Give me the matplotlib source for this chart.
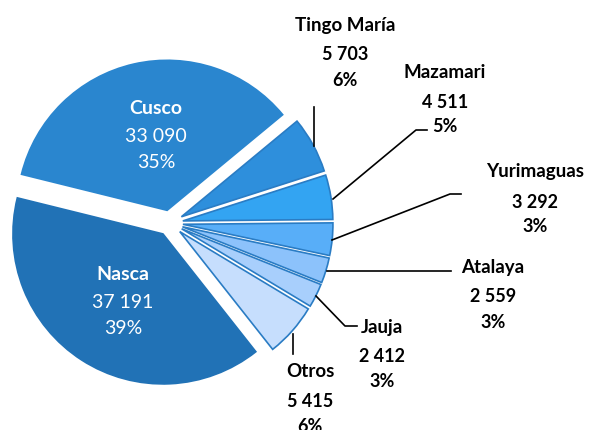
import matplotlib.pyplot as plt

# data
names = ["Tingo María", "Mazamari", "Yurimaguas", "Atalaya", "Jauja", "Otros", "Nasca", "Cusco"]
values = [5703, 4511, 3292, 2559, 2412, 5415, 37191, 33090]
value_labels = ["5 703", "4 511", "3 292", "2 559", "2 412", "5 415", "37 191", "33 090"]
pct_labels = ["6%", "5%", "3%", "3%", "3%", "6%", "39%", "35%"]

colors = ["#2e8fdc", "#33a4f2", "#58aef8", "#8cc2fb", "#a8cffc", "#c6defd", "#2172b6", "#2a86cf"]
edges = ["#2a7cc4"] * 6 + ["#2172b6", "#2a86cf"]

plt.rcParams["font.family"] = ["Lato", "DejaVu Sans"]

fig = plt.figure(figsize=(5.93, 4.31), dpi=100)
ax = fig.add_axes([0, 0, 1, 1])

# explode is in data units here (pixels), not a fraction of the radius
wedges, _ = ax.pie(values, colors=colors, startangle=39.6, counterclock=False,
                   center=(170, 207), radius=150, explode=[13] * 8,
                   wedgeprops=dict(linewidth=1.2))
for w, ec in zip(wedges, edges):
    w.set_edgecolor(ec)

# pie() resets the limits, so set them afterwards
ax.set_xlim(0, 593)
ax.set_ylim(0, 431)
ax.set_aspect("equal")
ax.axis("off")

# labels inside big slices
inside = {"Nasca": (123, 431 - 275), "Cusco": (156, 431 - 108)}
for name, (x, y) in inside.items():
    i = names.index(name)
    ax.text(x, y, name, color="white", fontsize=14, fontweight="bold", ha="center", va="center")
    ax.text(x, y - 28, value_labels[i], color="white", fontsize=14, ha="center", va="center")
    ax.text(x, y - 54, pct_labels[i], color="white", fontsize=14, ha="center", va="center")

# outside labels: (x, y of name line) in pixel coords, y from top
outside = {
    "Tingo María": (345, 25),
    "Mazamari": (445, 72),
    "Yurimaguas": (535, 172),
    "Atalaya": (493, 267),
    "Jauja": (382, 327),
    "Otros": (310, 372),
}
for name, (x, y) in outside.items():
    i = names.index(name)
    yy = 431 - y
    ax.text(x, yy, name, color="black", fontsize=13.5, fontweight="bold", ha="center", va="center")
    ax.text(x, yy - 30, value_labels[i], color="black", fontsize=13, fontweight="bold", ha="center", va="center")
    ax.text(x, yy - 55, pct_labels[i], color="black", fontsize=13, fontweight="bold", ha="center", va="center")

# leader lines
leaders = [
    [(314, 108), (314, 147)],
    [(333, 200), (416, 131), (427, 131)],
    [(332, 241), (450, 195), (461, 195)],
    [(327, 272), (451, 272)],
    [(316, 297), (345, 327), (357, 327)],
    [(293, 335), (293, 355)],
]
for pts in leaders:
    xs = [p[0] for p in pts]
    ys = [431 - p[1] for p in pts]
    ax.plot(xs, ys, color="black", linewidth=1.2)

fig.savefig("out.png", dpi=100)
